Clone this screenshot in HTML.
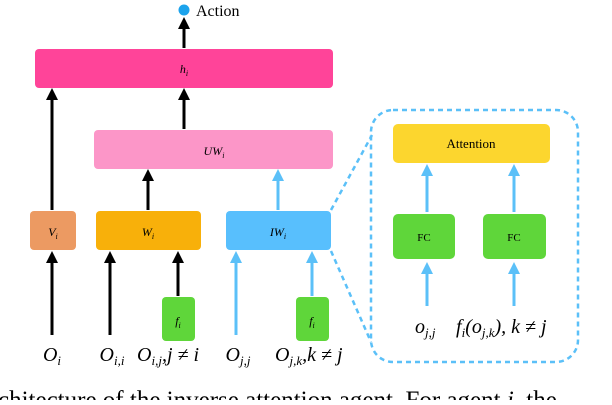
<!DOCTYPE html><html><head><style>body{margin:0;width:612px;height:400px;overflow:hidden;background:#fff;font-family:"Liberation Serif",serif}</style></head><body>
<svg width="612" height="400" xmlns="http://www.w3.org/2000/svg" font-family="Liberation Serif, serif">
<defs>
<marker id="ak" markerWidth="4" markerHeight="4" refX="2" refY="2" orient="auto" markerUnits="strokeWidth"><path d="M0,0 L4,2 L0,4z" fill="#000"/></marker>
<marker id="ab" markerWidth="4" markerHeight="4" refX="2" refY="2" orient="auto" markerUnits="strokeWidth"><path d="M0,0 L4,2 L0,4z" fill="#5bc0f8"/></marker>
</defs>
<circle cx="184" cy="10" r="5.5" fill="#1ca3ec"/>
<text x="196" y="16" font-size="16">Action</text>
<rect x="35" y="49" width="298" height="39" rx="4" fill="#ff4499"/>
<text x="184" y="73" font-size="12" font-style="italic" text-anchor="middle">h<tspan font-size="8" dy="3">i</tspan></text>
<rect x="94" y="130" width="239" height="39" rx="4" fill="#fc96c8"/>
<text x="214" y="155" font-size="12" font-style="italic" text-anchor="middle">UW<tspan font-size="8" dy="3">i</tspan></text>
<rect x="30" y="211" width="46" height="39" rx="4" fill="#ec9a62"/>
<text x="53" y="236" font-size="12" font-style="italic" text-anchor="middle">V<tspan font-size="8" dy="3">i</tspan></text>
<rect x="96" y="211" width="105" height="39" rx="4" fill="#f8b00a"/>
<text x="148" y="236" font-size="12" font-style="italic" text-anchor="middle">W<tspan font-size="8" dy="3">i</tspan></text>
<rect x="226" y="211" width="105" height="39" rx="4" fill="#58bffd"/>
<text x="278" y="236" font-size="12" font-style="italic" text-anchor="middle">IW<tspan font-size="8" dy="3">i</tspan></text>
<rect x="162" y="297" width="33" height="44" rx="4" fill="#5fd63a"/>
<text x="178" y="325" font-size="12" font-style="italic" text-anchor="middle">f<tspan font-size="8" dy="3">i</tspan></text>
<rect x="296" y="297" width="33" height="44" rx="4" fill="#5fd63a"/>
<text x="312" y="325" font-size="12" font-style="italic" text-anchor="middle">f<tspan font-size="8" dy="3">i</tspan></text>
<g stroke="#000" stroke-width="3" marker-end="url(#ak)">
<line x1="184" y1="48" x2="184" y2="23"/>
<line x1="184" y1="129" x2="184" y2="94"/>
<line x1="52" y1="210" x2="52" y2="94"/>
<line x1="148" y1="210" x2="148" y2="175"/>
<line x1="52" y1="335" x2="52" y2="257"/>
<line x1="110" y1="335" x2="110" y2="257"/>
<line x1="178" y1="296" x2="178" y2="257"/>
</g>
<g stroke="#5bc0f8" stroke-width="3" marker-end="url(#ab)">
<line x1="278" y1="210" x2="278" y2="175"/>
<line x1="236" y1="335" x2="236" y2="257"/>
<line x1="312" y1="296" x2="312" y2="257"/>
<line x1="427" y1="306" x2="427" y2="268"/>
<line x1="514" y1="306" x2="514" y2="268"/>
<line x1="427" y1="212" x2="427" y2="170"/>
<line x1="514" y1="212" x2="514" y2="170"/>
</g>
<g font-size="20" font-style="italic">
<text x="52" y="361" text-anchor="middle">O<tspan font-size="13" dy="4">i</tspan></text>
<text x="112" y="361" text-anchor="middle">O<tspan font-size="13" dy="4">i,i</tspan></text>
<text x="137" y="361">O<tspan font-size="13" dy="4">i,j</tspan><tspan dy="-4">,j ≠ i</tspan></text>
<text x="238" y="361" text-anchor="middle">O<tspan font-size="13" dy="4">j,j</tspan></text>
<text x="275" y="361">O<tspan font-size="13" dy="4">j,k</tspan><tspan dy="-4">,k ≠ j</tspan></text>
<text x="415" y="333">o<tspan font-size="13" dy="4">j,j</tspan></text>
<text x="456" y="333">f<tspan font-size="13" dy="4">i</tspan><tspan dy="-4">(o</tspan><tspan font-size="13" dy="4">j,k</tspan><tspan dy="-4">), k ≠ j</tspan></text>
</g>
<rect x="371" y="110" width="207" height="252" rx="22" fill="none" stroke="#5bc0f8" stroke-width="2.5" stroke-dasharray="5,4"/>
<line x1="331" y1="210" x2="372" y2="135" stroke="#5bc0f8" stroke-width="2.5" stroke-dasharray="5,4"/>
<line x1="331" y1="251" x2="371" y2="342" stroke="#5bc0f8" stroke-width="2.5" stroke-dasharray="5,4"/>
<rect x="393" y="124" width="157" height="39" rx="5" fill="#fcd62e"/>
<text x="471" y="148" font-size="13" text-anchor="middle">Attention</text>
<rect x="393" y="214" width="62" height="45" rx="5" fill="#5fd63a"/>
<text x="424" y="241" font-size="11" text-anchor="middle">FC</text>
<rect x="483" y="214" width="63" height="45" rx="5" fill="#5fd63a"/>
<text x="514" y="241" font-size="11" text-anchor="middle">FC</text>
<text x="-2" y="408" font-size="25">chitecture of the inverse attention agent. For agent <tspan font-style="italic">i</tspan>, the</text>
</svg>
</body></html>
